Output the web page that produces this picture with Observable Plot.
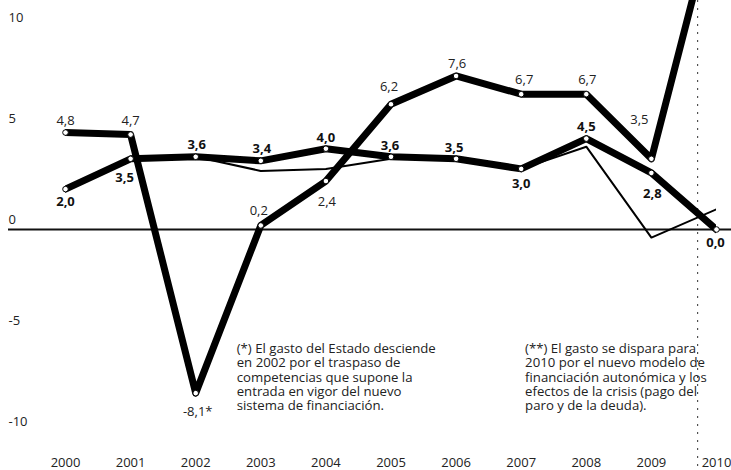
<!DOCTYPE html>
<html>
<head>
<meta charset="utf-8">
<script src="https://cdn.jsdelivr.net/npm/d3@7"></script>
<script src="https://cdn.jsdelivr.net/npm/@observablehq/plot@0.6"></script>
<style>
  html, body { margin: 0; padding: 0; background: #fff; }
  #chart { width: 731px; height: 470px; overflow: hidden; }
</style>
</head>
<body>
<div id="chart"></div>
<script>
// ---- data ----
const years = [2000, 2001, 2002, 2003, 2004, 2005, 2006, 2007, 2008, 2009, 2010];
const seriesA = [4.8, 4.7, -8.1, 0.2, 2.4, 6.2, 7.6, 6.7, 6.7, 3.5, 16.0];
const seriesB = [2.0, 3.5, 3.6, 3.4, 4.0, 3.6, 3.5, 3.0, 4.5, 2.8, 0.0];
const seriesC = [2.0, 3.5, 3.6, 2.9, 3.0, 3.5, 3.5, 3.0, 4.1, -0.4, 1.0];
const labelsA = ["4,8", "4,7", "-8,1*", "0,2", "2,4", "6,2", "7,6", "6,7", "6,7", "3,5", ""];
const labelsB = ["2,0", "3,5", "3,6", "3,4", "4,0", "3,6", "3,5", "3,0", "4,5", "2,8", "0,0"];
const yTicks = [10, 5, 0, -5, -10];
const markerYear = 2009.71;
const noteTexts = [
  "(*) El gasto del Estado desciende\nen 2002 por el traspaso de\ncompetencias que supone la\nentrada en vigor del nuevo\nsistema de financiación.",
  "(**) El gasto se dispara para\n2010 por el nuevo modelo de\nfinanciación autonómica y los\nefectos de la crisis (pago del\nparo y de la deuda)."
];
const noteYears = [2002.63, 2007.06];
const noteValues = [-5.9, -5.9];

// ---- label placement (layout, separate from data) ----
const dxA = [0, 0, 2, -2, 1, -2, 1, 3, 1, -12, 0];
const dyA = [-12, -14, 19, -15, 21, -17, -12, -14, -14, -39, 0];
const dxB = [0, -6, 1, 1, 0, -1, -2, 0, 0, 1, -1];
const dyB = [13, 19, -12, -12, -11, -11, -11, 15, -12, 21, 13];

const rows = (vals) => years.map((y, i) => ({year: y, value: vals[i], i}));
const A = rows(seriesA), B = rows(seriesB), C = rows(seriesC);

const labelMarks = [];
A.forEach((d, i) => {
  if (!labelsA[i]) return;
  labelMarks.push(Plot.text([d], {x: "year", y: "value", text: () => labelsA[i],
    dx: dxA[i], dy: dyA[i], fontSize: 13, fill: "#222"}));
});
B.forEach((d, i) => {
  labelMarks.push(Plot.text([d], {x: "year", y: "value", text: () => labelsB[i],
    dx: dxB[i], dy: dyB[i], fontSize: 13, fontWeight: "bold", fill: "#111"}));
});

// one text mark per note line, positioned via the y scale plus a line offset
const noteMarks = [];
noteTexts.forEach((t, i) => {
  t.split("\n").forEach((line, k) => {
    noteMarks.push(Plot.text([{x: noteYears[i], y: noteValues[i]}], {x: "x", y: "y", text: () => line,
      textAnchor: "start", dy: k * 14.3, fontSize: 13.2, fill: "#222"}));
  });
});

const chart = Plot.plot({
  width: 731,
  height: 470,
  marginTop: 0,
  marginBottom: 39,
  marginLeft: 65,
  marginRight: 15,
  style: {fontFamily: "'Open Sans', sans-serif", background: "#fff", color: "#222"},
  x: {domain: [2000, 2010], type: "linear"},
  y: {domain: [-10, 229 / 20.2]},
  marks: [
    Plot.axisY(yTicks, {anchor: "left", tickSize: 0, tickPadding: 0, textAnchor: "start",
      dx: -57, dy: -10, tickFormat: d => String(d), fontSize: 13, label: null, fill: "#222"}),
    Plot.axisX(years, {anchor: "bottom", tickSize: 0, tickPadding: 26, tickFormat: d => String(d),
      fontSize: 13, label: null, fill: "#222"}),
    Plot.ruleX([markerYear], {stroke: "#444", strokeWidth: 1.1, strokeDasharray: "2,6", insetBottom: -39}),
    Plot.ruleY([0], {stroke: "#111", strokeWidth: 2, insetLeft: -57, insetRight: -15}),
    Plot.line(C, {x: "year", y: "value", stroke: "#000", strokeWidth: 2, clip: true}),
    Plot.line(B, {x: "year", y: "value", stroke: "#000", strokeWidth: 7, clip: true}),
    Plot.line(A, {x: "year", y: "value", stroke: "#000", strokeWidth: 7, clip: true}),
    Plot.dot(A.filter(d => labelsA[d.i]), {x: "year", y: "value", r: 2.8, fill: "#fff", stroke: "#000", strokeWidth: 1}),
    Plot.dot(B, {x: "year", y: "value", r: 2.8, fill: "#fff", stroke: "#000", strokeWidth: 1}),
    ...labelMarks,
    ...noteMarks
  ]
});
document.getElementById("chart").appendChild(chart);
</script>
</body>
</html>
